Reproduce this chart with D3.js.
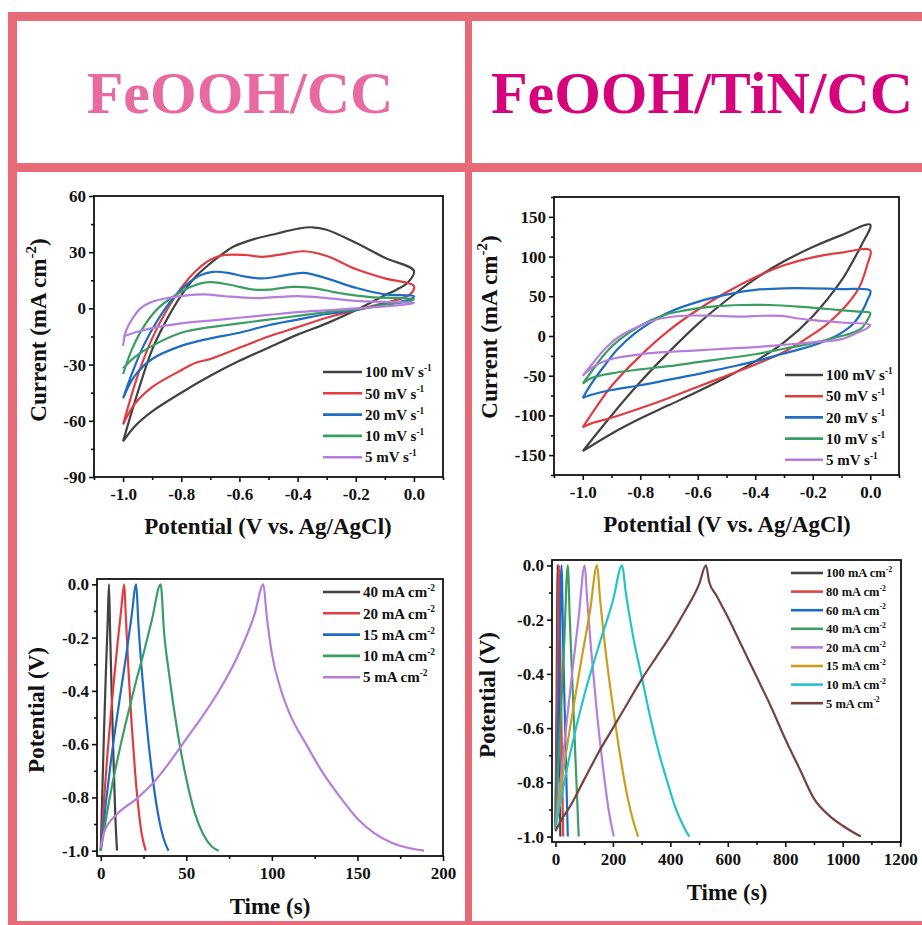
<!DOCTYPE html>
<html>
<head>
<meta charset="utf-8">
<script src="https://cdn.jsdelivr.net/npm/d3@7"></script>
<style>
  body { margin: 0; background: #fff; }
  svg { display: block; }
  text { font-family: "Liberation Serif", "Times New Roman", serif; font-weight: bold; fill: #111; }
</style>
</head>
<body>
<svg id="chart" width="922" height="925"></svg>
<script>
// ---------- cyclic voltammetry, FeOOH/CC : [potential V, current mA cm-2] ----------
const cvCcRates = ["100", "50", "20", "10", "5"];
const cvCc100 = [[-1,-71],[-0.95,-45],[-0.9,-22],[-0.85,-6],[-0.8,7],[-0.75,17],[-0.7,24],[-0.65,30],[-0.62,33],[-0.55,37],[-0.47,40],[-0.4,42.5],[-0.35,43.3],[-0.3,42],[-0.2,35],[-0.1,27],[0,20],[-0.02,14],[-0.06,10],[-0.1,7],[-0.2,-1],[-0.3,-8],[-0.4,-14],[-0.5,-21],[-0.6,-28],[-0.7,-36],[-0.8,-45],[-0.9,-55],[-0.96,-63],[-1,-71]];
const cvCc50 = [[-1,-62],[-0.95,-36],[-0.9,-16],[-0.85,-1],[-0.8,11],[-0.75,20],[-0.7,26],[-0.65,28.5],[-0.58,28.5],[-0.52,27.5],[-0.45,29],[-0.38,30.5],[-0.3,28],[-0.2,21],[-0.1,16],[0,12],[-0.01,8],[-0.05,5],[-0.1,3],[-0.2,-1],[-0.3,-5],[-0.4,-10],[-0.5,-15],[-0.6,-21],[-0.7,-27],[-0.75,-29],[-0.8,-33],[-0.9,-42],[-0.96,-51],[-1,-62]];
const cvCc20 = [[-1,-48],[-0.97,-35],[-0.93,-20],[-0.88,-6],[-0.83,5],[-0.78,13],[-0.73,18],[-0.69,19.5],[-0.64,19],[-0.58,17],[-0.52,16],[-0.45,17.5],[-0.38,19],[-0.3,16],[-0.2,11],[-0.1,7.5],[0,6.5],[-0.01,5],[-0.05,3.5],[-0.1,2.5],[-0.2,-1],[-0.3,-3],[-0.4,-6],[-0.5,-9],[-0.6,-13],[-0.7,-16],[-0.8,-20],[-0.9,-27],[-0.96,-36],[-1,-48]];
const cvCc10 = [[-1,-35],[-0.97,-22],[-0.93,-10],[-0.88,0],[-0.82,7],[-0.76,12],[-0.7,14],[-0.63,12.5],[-0.55,10],[-0.5,10],[-0.42,11.5],[-0.35,11],[-0.25,8],[-0.15,6],[0,5],[-0.01,4],[-0.1,2],[-0.2,-0.5],[-0.3,-2],[-0.4,-4],[-0.5,-6],[-0.6,-8],[-0.65,-9],[-0.7,-10],[-0.8,-13],[-0.9,-20],[-0.96,-26],[-1,-32]];
const cvCc5 = [[-1,-20],[-0.99,-12],[-0.97,-6],[-0.94,0],[-0.9,3.5],[-0.85,5.5],[-0.78,7],[-0.72,7.5],[-0.65,6.5],[-0.55,5.5],[-0.48,6],[-0.4,6.5],[-0.3,5.5],[-0.2,4],[-0.1,3.5],[0,3],[-0.01,2.5],[-0.1,1],[-0.2,0],[-0.3,-1],[-0.4,-2],[-0.5,-3.5],[-0.6,-5],[-0.7,-6.5],[-0.8,-8],[-0.9,-10.5],[-0.95,-12.5],[-1,-15]];

// ---------- cyclic voltammetry, FeOOH/TiN/CC ----------
const cvTinRates = ["100", "50", "20", "10", "5"];
const cvTin100 = [[-1,-145],[-0.9,-100],[-0.8,-58],[-0.7,-20],[-0.6,15],[-0.5,45],[-0.4,72],[-0.3,94],[-0.2,112],[-0.1,127],[0,140],[-0.03,115],[-0.07,88],[-0.1,70],[-0.2,25],[-0.3,-8],[-0.4,-32],[-0.5,-52],[-0.6,-70],[-0.7,-87],[-0.8,-104],[-0.9,-123],[-1,-145]];
const cvTin50 = [[-1,-115],[-0.95,-88],[-0.9,-63],[-0.8,-25],[-0.7,7],[-0.6,33],[-0.5,55],[-0.4,74],[-0.3,89],[-0.2,99],[-0.1,105],[0,108],[-0.01,90],[-0.04,60],[-0.08,40],[-0.15,15],[-0.2,2],[-0.3,-20],[-0.4,-36],[-0.5,-50],[-0.6,-64],[-0.7,-78],[-0.8,-91],[-0.9,-103],[-0.97,-110],[-1,-115]];
const cvTin20 = [[-1,-78],[-0.97,-60],[-0.93,-40],[-0.88,-17],[-0.82,3],[-0.75,20],[-0.7,30],[-0.6,43],[-0.5,52],[-0.4,58],[-0.3,60],[-0.2,60],[-0.1,59],[0,57],[-0.01,45],[-0.03,30],[-0.06,15],[-0.1,4],[-0.15,-5],[-0.2,-12],[-0.3,-22],[-0.4,-32],[-0.5,-40],[-0.6,-48],[-0.7,-55],[-0.8,-62],[-0.9,-68],[-0.97,-74],[-1,-78]];
const cvTin10 = [[-1,-60],[-0.96,-40],[-0.92,-21],[-0.87,-4],[-0.8,13],[-0.72,26],[-0.65,32],[-0.55,37],[-0.45,39],[-0.35,39],[-0.25,37],[-0.15,34],[-0.05,31],[0,29],[-0.01,20],[-0.03,10],[-0.07,3],[-0.1,0],[-0.2,-9],[-0.3,-16],[-0.4,-23],[-0.5,-28],[-0.6,-33],[-0.7,-38],[-0.8,-42],[-0.9,-47],[-0.97,-53],[-1,-60]];
const cvTin5 = [[-1,-50],[-0.96,-32],[-0.92,-15],[-0.87,0],[-0.8,13],[-0.73,22],[-0.65,25.5],[-0.55,25.5],[-0.45,24.5],[-0.37,25.5],[-0.3,25],[-0.25,22],[-0.2,20],[-0.1,17],[0,14],[-0.01,10],[-0.04,5],[-0.1,-4],[-0.2,-8],[-0.3,-11],[-0.4,-14],[-0.5,-16],[-0.6,-18],[-0.7,-20],[-0.8,-23],[-0.9,-29],[-0.96,-38],[-1,-50]];

// ---------- galvanostatic charge/discharge, FeOOH/CC : [time s, potential V] ----------
const gcdCcCurrents = ["40", "20", "15", "10", "5"];
const gcdCc40 = [[0,-1],[1,-0.76],[2,-0.53],[3,-0.33],[4,-0.15],[4.8,0],[5.5,-0.19],[6.5,-0.44],[7.5,-0.67],[8.5,-0.87],[9.5,-1]];
const gcdCc20 = [[0,-1],[2,-0.8],[4,-0.63],[6,-0.48],[8,-0.34],[10,-0.21],[12,-0.09],[13.7,0],[14.5,-0.1],[16,-0.3],[18,-0.52],[20,-0.7],[22,-0.84],[24,-0.94],[26.3,-1]];
const gcdCc15 = [[0,-1],[3,-0.82],[6,-0.66],[9,-0.52],[12,-0.39],[15,-0.26],[18,-0.12],[20.7,0],[22,-0.15],[25,-0.4],[28,-0.6],[31,-0.76],[34,-0.88],[37,-0.96],[39.6,-1]];
const gcdCc10 = [[0,-1],[5,-0.81],[10,-0.65],[15,-0.51],[20,-0.38],[25,-0.26],[30,-0.13],[35,0],[37,-0.18],[40,-0.34],[45,-0.56],[50,-0.73],[55,-0.86],[60,-0.94],[65,-0.985],[69,-1]];
const gcdCc5 = [[0,-0.99],[2,-0.93],[10,-0.86],[20,-0.81],[30,-0.75],[40,-0.67],[50,-0.58],[60,-0.49],[70,-0.39],[80,-0.27],[90,-0.11],[95,0],[97,-0.12],[100,-0.26],[105,-0.39],[110,-0.48],[120,-0.6],[130,-0.71],[140,-0.8],[150,-0.88],[160,-0.935],[170,-0.97],[180,-0.99],[189,-1]];

// ---------- galvanostatic charge/discharge, FeOOH/TiN/CC ----------
const gcdTinCurrents = ["100", "80", "60", "40", "20", "15", "10", "5"];
const gcdTin100 = [[0,-0.97],[4,-0.5],[8,0],[12,-0.45],[17,-1]];
const gcdTin80 = [[0,-0.97],[6,-0.5],[12,0],[18,-0.4],[27,-1]];
const gcdTin60 = [[0,-0.97],[7,-0.68],[14,-0.36],[21,0],[27,-0.3],[35,-0.66],[43,-1]];
const gcdTin40 = [[0,-0.97],[10,-0.74],[20,-0.52],[30,-0.3],[43,0],[50,-0.2],[60,-0.46],[70,-0.72],[81,-1]];
const gcdTin20 = [[0,-0.97],[20,-0.77],[40,-0.57],[60,-0.38],[80,-0.2],[102,0],[110,-0.12],[125,-0.32],[145,-0.55],[165,-0.74],[185,-0.9],[203,-1]];
const gcdTin15 = [[0,-0.97],[30,-0.74],[60,-0.54],[90,-0.35],[120,-0.17],[145,0],[155,-0.12],[175,-0.32],[200,-0.52],[225,-0.7],[250,-0.85],[270,-0.94],[288,-1]];
const gcdTin10 = [[0,-0.97],[25,-0.83],[50,-0.7],[100,-0.48],[150,-0.3],[200,-0.13],[232,0],[245,-0.1],[270,-0.26],[300,-0.41],[330,-0.56],[360,-0.69],[390,-0.8],[420,-0.9],[445,-0.96],[466,-1]];
const gcdTin5 = [[0,-0.98],[20,-0.94],[50,-0.89],[100,-0.79],[150,-0.69],[200,-0.6],[250,-0.51],[300,-0.42],[350,-0.34],[400,-0.26],[450,-0.17],[500,-0.07],[524,0],[535,-0.06],[560,-0.11],[600,-0.19],[650,-0.3],[700,-0.41],[750,-0.52],[800,-0.64],[850,-0.75],[900,-0.86],[950,-0.92],[1000,-0.96],[1063,-1]];

// ---------- tick labels ----------
const cvPotentialTicks = [-1.0, -0.8, -0.6, -0.4, -0.2, 0.0];
const cvPotentialMinor = [-1.1, -0.9, -0.7, -0.5, -0.3, -0.1, 0.1];
const cvCcCurrentTicks = [-90, -60, -30, 0, 30, 60];
const cvCcCurrentMinor = [-75, -45, -15, 15, 45];
const cvTinCurrentTicks = [-150, -100, -50, 0, 50, 100, 150];
const cvTinCurrentMinor = [-175, -125, -75, -25, 25, 75, 125, 175];
const gcdPotentialTicks = [-1.0, -0.8, -0.6, -0.4, -0.2, 0.0];
const gcdPotentialMinor = [-0.9, -0.7, -0.5, -0.3, -0.1];
const gcdCcTimeTicks = [0, 50, 100, 150, 200];
const gcdCcTimeMinor = [25, 75, 125, 175];
const gcdTinTimeTicks = [0, 200, 400, 600, 800, 1000, 1200];
const gcdTinTimeMinor = [100, 300, 500, 700, 900, 1100];

// ---------- colours ----------
const fiveColors = ["#424242", "#e03d40", "#1f6cc2", "#3a9e62", "#b47fdc"];
const eightColors = ["#434343", "#e04343", "#1e6cc4", "#3c9e63", "#b480dc", "#cc9e1c", "#22c4cc", "#76423f"];
const frameColor = "#e76a79";

const svg = d3.select("#chart");

// ---------- outer frame and headers ----------
const frame = svg.append("g").attr("fill", frameColor);
frame.append("rect").attr("x", 8).attr("y", 12).attr("width", 914).attr("height", 9);
frame.append("rect").attr("x", 8).attr("y", 12).attr("width", 9).attr("height", 913);
frame.append("rect").attr("x", 8).attr("y", 163).attr("width", 914).attr("height", 9);
frame.append("rect").attr("x", 465).attr("y", 12).attr("width", 7).attr("height", 913);
frame.append("rect").attr("x", 8).attr("y", 921).attr("width", 914).attr("height", 4);

svg.append("text").attr("x", 240).attr("y", 113).attr("text-anchor", "middle")
  .style("font-size", "60px").style("fill", "#e96aa0").text("FeOOH/CC");
svg.append("text").attr("x", 702).attr("y", 113).attr("text-anchor", "middle")
  .style("font-size", "60px").style("fill", "#d6047c").text("FeOOH/TiN/CC");

const fmt = (digits) => (d) => {
  const v = Math.abs(d) < 1e-9 ? 0 : d;
  return v.toFixed(digits);
};

function addLabel(sel, main, sup, after, supSize) {
  sel.append("tspan").text(main);
  sel.append("tspan").attr("dy", -0.42 * supSize / 0.62).style("font-size", supSize + "px").text(sup);
  if (after) sel.append("tspan").attr("dy", 0.42 * supSize / 0.62).text(after);
}

function panel(o) {
  const x = d3.scaleLinear().domain(o.xDomain).range([o.left, o.right]);
  const y = d3.scaleLinear().domain(o.yDomain).range([o.bottom, o.top]);
  const g = svg.append("g");

  const styleAxis = (s) => {
    s.select(".domain").remove();
    s.selectAll("line").attr("stroke", "#111").attr("stroke-width", 1.6);
    s.selectAll("text").attr("font-family", null).attr("font-size", null)
      .style("font-size", "17px").style("fill", "#111");
  };

  g.append("g").attr("transform", `translate(0,${o.bottom})`)
    .call(d3.axisBottom(x).tickValues(o.xMinor).tickSize(3).tickFormat(""))
    .call(styleAxis);
  g.append("g").attr("transform", `translate(0,${o.bottom})`)
    .call(d3.axisBottom(x).tickValues(o.xTicks).tickSize(5).tickPadding(6).tickFormat(o.xFmt))
    .call(styleAxis);
  g.append("g").attr("transform", `translate(${o.left},0)`)
    .call(d3.axisLeft(y).tickValues(o.yMinor).tickSize(3).tickFormat(""))
    .call(styleAxis);
  g.append("g").attr("transform", `translate(${o.left},0)`)
    .call(d3.axisLeft(y).tickValues(o.yTicks).tickSize(5).tickPadding(3).tickFormat(o.yFmt))
    .call(styleAxis);

  const clipId = "clip" + o.id;
  svg.append("clipPath").attr("id", clipId).append("rect")
    .attr("x", o.left).attr("y", o.top).attr("width", o.right - o.left).attr("height", o.bottom - o.top);

  const line = d3.line().x(d => x(d[0])).y(d => y(d[1])).curve(o.curve);
  const curves = g.append("g").attr("clip-path", `url(#${clipId})`);
  o.series.forEach((s, i) => {
    curves.append("path").datum(s).attr("d", line)
      .attr("fill", "none").attr("stroke", o.colors[i]).attr("stroke-width", 2.2)
      .attr("stroke-linejoin", "round");
  });

  g.append("rect").attr("x", o.left).attr("y", o.top)
    .attr("width", o.right - o.left).attr("height", o.bottom - o.top)
    .attr("fill", "none").attr("stroke", "#111").attr("stroke-width", 1.8);

  // legend
  const lg = g.append("g");
  o.labels.forEach((lab, i) => {
    const ly = o.legend.y + i * o.legend.step;
    lg.append("line").attr("x1", o.legend.x1).attr("x2", o.legend.x2).attr("y1", ly).attr("y2", ly)
      .attr("stroke", o.colors[i]).attr("stroke-width", 2.6);
    const t = lg.append("text").attr("x", o.legend.x2 + 3).attr("y", ly).attr("dy", "0.35em")
      .style("font-size", o.legend.size + "px");
    addLabel(t, lab + o.unit, o.unitSup, null, o.legend.size * 0.62);
  });

  // axis titles
  svg.append("text").attr("x", o.xTitle[0]).attr("y", o.xTitle[1]).attr("text-anchor", "middle")
    .style("font-size", "23px").text(o.xTitleText);
  const yt = svg.append("text").attr("text-anchor", "middle")
    .attr("transform", `translate(${o.yTitle[0]},${o.yTitle[1]}) rotate(-90)`)
    .style("font-size", "23px");
  if (o.yTitleSup) addLabel(yt, o.yTitleText, o.yTitleSup, ")", 15);
  else yt.text(o.yTitleText);
}

const cvCurve = d3.curveCatmullRom.alpha(0.5);
const gcdCurve = d3.curveMonotoneX;

panel({
  id: "cvcc", left: 94, right: 443, top: 196, bottom: 477,
  xDomain: [-1.1, 0.1], yDomain: [-90, 60],
  xTicks: cvPotentialTicks, xMinor: cvPotentialMinor, xFmt: fmt(1),
  yTicks: cvCcCurrentTicks, yMinor: cvCcCurrentMinor, yFmt: fmt(0),
  series: [cvCc100, cvCc50, cvCc20, cvCc10, cvCc5], colors: fiveColors, curve: cvCurve,
  labels: cvCcRates, unit: " mV s", unitSup: "-1",
  legend: { x1: 323, x2: 362, y: 372, step: 21.3, size: 15 },
  xTitle: [268, 534], xTitleText: "Potential (V vs. Ag/AgCl)",
  yTitle: [46, 330], yTitleText: "Current (mA cm", yTitleSup: "-2"
});

panel({
  id: "cvtin", left: 554, right: 899, top: 197, bottom: 475,
  xDomain: [-1.1, 0.1], yDomain: [-175, 175],
  xTicks: cvPotentialTicks, xMinor: cvPotentialMinor, xFmt: fmt(1),
  yTicks: cvTinCurrentTicks, yMinor: cvTinCurrentMinor, yFmt: fmt(0),
  series: [cvTin100, cvTin50, cvTin20, cvTin10, cvTin5], colors: fiveColors, curve: cvCurve,
  labels: cvTinRates, unit: " mV s", unitSup: "-1",
  legend: { x1: 785, x2: 823, y: 375, step: 21.2, size: 15 },
  xTitle: [727, 532], xTitleText: "Potential (V vs. Ag/AgCl)",
  yTitle: [497, 327], yTitleText: "Current (mA cm", yTitleSup: "-2"
});

panel({
  id: "gcdcc", left: 97, right: 443, top: 579, bottom: 856,
  xDomain: [-2.2, 200], yDomain: [-1.02, 0.02],
  xTicks: gcdCcTimeTicks, xMinor: gcdCcTimeMinor, xFmt: fmt(0),
  yTicks: gcdPotentialTicks, yMinor: gcdPotentialMinor, yFmt: fmt(1),
  series: [gcdCc40, gcdCc20, gcdCc15, gcdCc10, gcdCc5], colors: fiveColors, curve: gcdCurve,
  labels: gcdCcCurrents, unit: " mA cm", unitSup: "-2",
  legend: { x1: 323, x2: 360, y: 592, step: 21.3, size: 15 },
  xTitle: [270, 914], xTitleText: "Time (s)",
  yTitle: [44, 710], yTitleText: "Potential (V)"
});

panel({
  id: "gcdtin", left: 552, right: 901, top: 560, bottom: 842,
  xDomain: [-12, 1203], yDomain: [-1.02, 0.02],
  xTicks: gcdTinTimeTicks, xMinor: gcdTinTimeMinor, xFmt: fmt(0),
  yTicks: gcdPotentialTicks, yMinor: gcdPotentialMinor, yFmt: fmt(1),
  series: [gcdTin100, gcdTin80, gcdTin60, gcdTin40, gcdTin20, gcdTin15, gcdTin10, gcdTin5],
  colors: eightColors, curve: gcdCurve,
  labels: gcdTinCurrents, unit: " mA cm", unitSup: "-2",
  legend: { x1: 791, x2: 823, y: 573, step: 18.6, size: 12.5 },
  xTitle: [727, 900], xTitleText: "Time (s)",
  yTitle: [495, 695], yTitleText: "Potential (V)"
});
</script>
</body>
</html>
